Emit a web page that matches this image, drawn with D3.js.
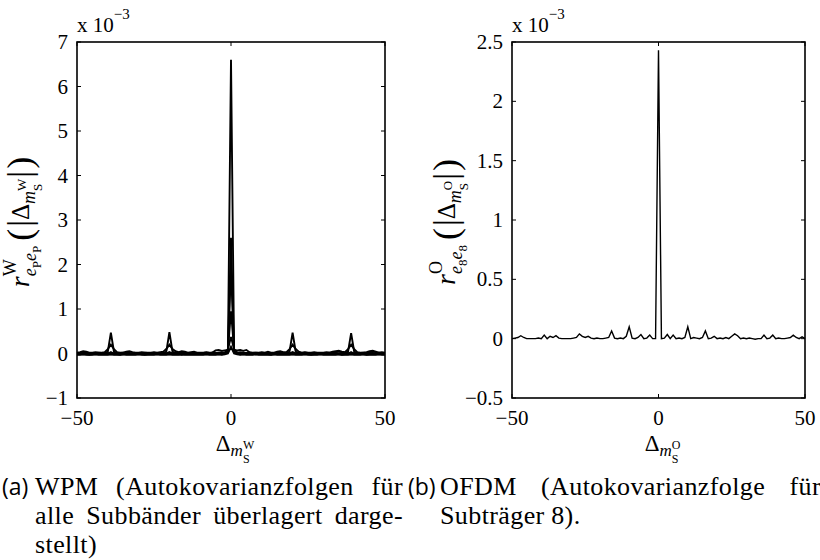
<!DOCTYPE html>
<html>
<head>
<meta charset="utf-8">
<script src="https://cdn.jsdelivr.net/npm/d3@7"></script>
<style>
  body { margin: 0; background: #fff; }
  svg text { font-family: "Liberation Serif", "Tinos", "DejaVu Serif", serif; fill: #000; }
  svg text.caplab { font-family: "Open Sans", "DejaVu Sans", sans-serif; }
  svg text.cap { letter-spacing: 0.4px; }
</style>
</head>
<body>
<svg id="fig" width="820" height="560"></svg>
<script>
// Lag axis (integer lags -50 ... 50)
const lags = d3.range(-50, 51);

// WPM: autocovariance sequences of the individual subbands (units of 1e-3)
const wpmSub1 = [
  0, 0.01, 0, -0.01, 0, 0.01, 0, 0, -0.01, 0,
  0, 0.02, 0, 0, 0.01, 0, 0, -0.01, 0, 0,
  0.01, 0, 0, 0, 0.01, 0, 0, 0, -0.01, 0,
  0.03, 0, 0, 0.01, 0, 0, 0, 0.01, 0, 0,
  0, 0.01, 0, 0, 0.02, 0, 0.01, 0, 0.02, 0.06,
  6.6,
  0.06, 0.02, 0, 0.01, 0, 0.02, 0, 0, 0.01, 0,
  0, 0, 0.01, 0, 0, 0, 0.01, 0, 0, 0.03,
  0, -0.01, 0, 0, 0, 0.01, 0, 0, 0, 0.01,
  0, 0, -0.01, 0, 0, 0.01, 0, 0, 0.02, 0,
  0, -0.01, 0, 0, 0.01, 0, -0.01, 0, 0.01, 0
];
const wpmSub2 = [
  -0.02, -0.02, -0.01, -0.02, -0.03, -0.02, -0.02, -0.01, -0.02, -0.02,
  -0.02, -0.01, -0.02, -0.02, -0.03, -0.02, -0.02, -0.02, -0.01, -0.02,
  -0.02, -0.02, -0.03, -0.02, -0.02, -0.01, -0.02, -0.02, -0.02, -0.02,
  -0.01, -0.02, -0.02, -0.02, -0.03, -0.02, -0.02, -0.01, -0.02, -0.02,
  -0.02, -0.02, -0.01, -0.02, -0.02, -0.02, -0.01, -0.02, -0.01, 0.03,
  2.6,
  0.03, -0.01, -0.02, -0.01, -0.02, -0.02, -0.02, -0.01, -0.02, -0.02,
  -0.02, -0.02, -0.03, -0.02, -0.02, -0.01, -0.02, -0.02, -0.02, -0.01,
  -0.02, -0.02, -0.01, -0.02, -0.02, -0.03, -0.02, -0.02, -0.02, -0.02,
  -0.02, -0.01, -0.02, -0.02, -0.02, -0.03, -0.02, -0.02, -0.01, -0.02,
  -0.01, -0.02, -0.02, -0.03, -0.02, -0.02, -0.01, -0.02, -0.02, -0.02
];
const wpmSub3 = [
  0.01, 0.01, 0.02, 0.01, 0, 0.01, 0.01, 0.02, 0.01, 0.01,
  0.04, 0.47, 0.04, 0.01, 0.01, 0.02, 0.01, 0.01, 0, 0.01,
  0.01, 0.01, 0.02, 0.01, 0.01, 0.01, 0, 0.01, 0.01, 0.04,
  0.48, 0.04, 0.01, 0.01, 0.02, 0.01, 0.01, 0.01, 0, 0.01,
  0.01, 0.01, 0.02, 0.01, 0.01, 0.01, 0.02, 0.01, 0.02, 0.04,
  1.9,
  0.04, 0.02, 0.01, 0.02, 0.01, 0.01, 0.01, 0.02, 0.01, 0.01,
  0.01, 0, 0.01, 0.01, 0.01, 0.02, 0.01, 0.01, 0.04, 0.47,
  0.04, 0.01, 0.01, 0.02, 0.01, 0.01, 0, 0.01, 0.01, 0.01,
  0.01, 0.02, 0.01, 0.01, 0, 0.01, 0.01, 0.04, 0.46, 0.04,
  0.01, 0.01, 0.02, 0.01, 0.01, 0, 0.01, 0.02, 0.01, 0.01
];
const wpmSub4 = [
  0.02, 0.03, 0.05, 0.04, 0.02, 0.02, 0.03, 0.02, 0.02, 0.03,
  0.1, 0.2, 0.1, 0.03, 0.02, 0.02, 0.04, 0.05, 0.03, 0.02,
  0.02, 0.03, 0.02, 0.02, 0.02, 0.03, 0.02, 0.03, 0.04, 0.1,
  0.2, 0.1, 0.05, 0.03, 0.05, 0.04, 0.02, 0.03, 0.04, 0.02,
  0.02, 0.02, 0.03, 0.02, 0.02, 0.07, 0.08, 0.06, 0.07, 0.08,
  0.95,
  0.08, 0.07, 0.08, 0.06, 0.08, 0.03, 0.02, 0.02, 0.02, 0.03,
  0.02, 0.04, 0.02, 0.02, 0.04, 0.05, 0.03, 0.03, 0.1, 0.2,
  0.1, 0.04, 0.02, 0.03, 0.02, 0.02, 0.03, 0.02, 0.02, 0.02,
  0.03, 0.02, 0.04, 0.05, 0.06, 0.04, 0.03, 0.1, 0.2, 0.1,
  0.03, 0.02, 0.02, 0.03, 0.05, 0.06, 0.04, 0.02, 0.03, 0.02
];
const wpmSub5 = [
  0, 0, 0.01, 0, -0.01, 0, 0, 0.01, 0, 0,
  0, 0.03, 0, 0, 0, 0.01, 0, 0, 0, 0,
  0, 0.01, 0, 0, 0, 0, 0.01, 0, 0, 0,
  0.03, 0, 0, 0, 0.01, 0, 0, 0, 0, 0.01,
  0, 0, 0, 0.01, 0, 0, 0.02, 0.03, 0.02, 0.1,
  0.37,
  0.1, 0.02, 0.03, 0.02, 0, 0, 0.01, 0, 0, 0,
  0.01, 0, 0, 0, 0, 0.01, 0, 0, 0, 0.03,
  0, 0, 0, 0.01, 0, 0, 0, 0.01, 0, 0,
  0, 0, 0, 0.01, 0, 0, 0, 0, 0.03, 0,
  0, 0, 0.01, 0, 0, 0.01, 0, 0, 0, 0
];
const wpmSub6 = [
  -0.03, -0.03, -0.02, -0.03, -0.03, -0.03, -0.02, -0.03, -0.03, -0.03,
  -0.03, -0.02, -0.03, -0.03, -0.03, -0.02, -0.03, -0.03, -0.03, -0.03,
  -0.02, -0.03, -0.03, -0.03, -0.03, -0.03, -0.02, -0.03, -0.03, -0.03,
  -0.02, -0.03, -0.03, -0.03, -0.02, -0.03, -0.03, -0.03, -0.03, -0.03,
  -0.03, -0.03, -0.02, -0.03, -0.03, -0.03, -0.02, -0.03, -0.02, 0,
  0.15,
  0, -0.02, -0.03, -0.02, -0.03, -0.03, -0.03, -0.02, -0.03, -0.03,
  -0.03, -0.03, -0.03, -0.02, -0.03, -0.03, -0.03, -0.03, -0.03, -0.02,
  -0.03, -0.03, -0.03, -0.02, -0.03, -0.03, -0.03, -0.03, -0.02, -0.03,
  -0.03, -0.03, -0.03, -0.03, -0.02, -0.03, -0.03, -0.03, -0.02, -0.03,
  -0.03, -0.03, -0.02, -0.03, -0.03, -0.03, -0.03, -0.02, -0.03, -0.03
];
const wpmSeries = [wpmSub6, wpmSub5, wpmSub4, wpmSub3, wpmSub2, wpmSub1];

// OFDM: autocovariance sequence of subcarrier 8 (units of 1e-3)
const ofdmSub8 = [
  0.0, 0.005, 0.01, 0.025, 0.01, 0.0, 0.0, 0.0, 0.0, 0.005,
  0.0, 0.03, 0.0, 0.02, 0.01, 0.025, 0.005, 0.0, 0.0, 0.0,
  0.0, 0.005, 0.01, 0.04, 0.02, 0.01, 0.02, 0.005, 0.0, 0.005,
  0.0, 0.0, 0.005, 0.01, 0.065, 0.005, 0.0, 0.005, 0.0, 0.02,
  0.10, 0.005, 0.0, 0.01, 0.035, 0.0, 0.005, 0.03, 0.0, 0.0,
  2.43,
  0.0, 0.005, 0.035, 0.0, 0.03, 0.0, 0.005, 0.0, 0.01, 0.10,
  0.0, 0.01, 0.005, 0.0, 0.01, 0.065, 0.0, 0.005, 0.02, 0.0,
  0.005, 0.0, 0.01, 0.0, 0.02, 0.04, 0.025, 0.0, 0.005, 0.0,
  0.005, 0.0, -0.005, 0.0, 0.0, 0.03, 0.0, 0.005, 0.03, 0.0,
  0.005, 0.0, 0.0, 0.005, 0.01, 0.03, 0.01, 0.0, 0.015, 0.0
];

// Tick values
const xTicks = [-50, 0, 50];
const wpmYTicks = [-1, 0, 1, 2, 3, 4, 5, 6, 7];
const ofdmYTicks = [-0.5, 0, 0.5, 1, 1.5, 2, 2.5];

const svg = d3.select("#fig");
const fmt = v => (v < 0 ? "\u2212" : "") + Math.abs(v);

// Lay out a run of text pieces left to right; {sup, sub} items are stacked.
function place(g, items, x0) {
  let cx = x0;
  for (const it of items) {
    if (it.sup || it.sub) {
      const a = it.sup ? place(g, it.sup, cx) : cx;
      const b = it.sub ? place(g, it.sub, cx) : cx;
      cx = Math.max(a, b);
    } else {
      const t = g.append("text")
        .attr("x", cx + (it.dx || 0))
        .attr("y", it.dy || 0)
        .attr("font-size", it.size)
        .style("font-style", it.it ? "italic" : "normal")
        .text(it.t);
      cx += t.node().getComputedTextLength() + (it.dx || 0) + (it.after || 0);
    }
  }
  return cx;
}
function mathLabel(parent, items, tx, ty, rot) {
  const outer = parent.append("g").attr("transform", `translate(${tx},${ty}) rotate(${rot || 0})`);
  const inner = outer.append("g");
  const w = place(inner, items, 0);
  inner.attr("transform", `translate(${-w / 2},0)`);
}

function drawPanel(opts) {
  const x = d3.scaleLinear().domain([-50, 50]).range(opts.xr);
  const y = d3.scaleLinear().domain(opts.yd).range([398, 42]);
  const g = svg.append("g");
  const [x0, x1] = opts.xr, y0 = 398, y1 = 42, tl = 4;

  // data lines
  const line = d3.line().x((d, i) => x(lags[i])).y(d => y(d));
  g.selectAll("path.series").data(opts.series).join("path")
    .attr("class", "series")
    .attr("d", line)
    .attr("fill", "none").attr("stroke", "#000")
    .attr("stroke-width", opts.lw).attr("stroke-linejoin", "miter");

  // box and inward ticks
  g.append("rect").attr("x", x0).attr("y", y1).attr("width", x1 - x0).attr("height", y0 - y1)
    .attr("fill", "none").attr("stroke", "#000").attr("stroke-width", 1.6);
  opts.yt.forEach(v => {
    g.append("line").attr("x1", x0).attr("x2", x0 + tl).attr("y1", y(v)).attr("y2", y(v)).attr("stroke", "#000");
    g.append("line").attr("x1", x1).attr("x2", x1 - tl).attr("y1", y(v)).attr("y2", y(v)).attr("stroke", "#000");
    g.append("text").attr("x", x0 - 9).attr("y", y(v) + 7).attr("text-anchor", "end")
      .attr("font-size", 21).text(fmt(v));
  });
  xTicks.forEach(v => {
    g.append("line").attr("x1", x(v)).attr("x2", x(v)).attr("y1", y0).attr("y2", y0 - tl).attr("stroke", "#000");
    g.append("line").attr("x1", x(v)).attr("x2", x(v)).attr("y1", y1).attr("y2", y1 + tl).attr("stroke", "#000");
    g.append("text").attr("x", x(v)).attr("y", 425).attr("text-anchor", "middle")
      .attr("font-size", 21).text(fmt(v));
  });

  // exponent label
  const ex = g.append("text").attr("x", x0).attr("y", 32).attr("font-size", 21);
  ex.append("tspan").text("x 10");
  ex.append("tspan").attr("font-size", 15).attr("dy", -13).text("\u22123");

  // axis labels
  mathLabel(g, [
    { t: "\u0394", size: 23 },
    { t: "m", size: 17, it: true, dy: 5 },
    { sup: [{ t: opts.tag, size: 12, dy: -2 }], sub: [{ t: "S", size: 12, dy: 12 }] }
  ], x(0) + 4, 451, 0);

  mathLabel(g, [
    { t: "r", size: 28, it: true },
    { sup: [{ t: opts.tag, size: 18, dy: -13 }],
      sub: [{ t: "e", size: 18, it: true, dy: 7 }, { t: opts.idx, size: 13, dy: 12 },
            { t: "e", size: 18, it: true, dy: 7 }, { t: opts.idx, size: 13, dy: 12 }] },
    { t: "(", size: 36, dy: 3, dx: 5 },
    { t: "|", size: 34, dy: 2, dx: 2 },
    { t: "\u0394", size: 25 },
    { t: "m", size: 18, it: true, dy: 6 },
    { sup: [{ t: opts.tag, size: 13, dy: -3 }], sub: [{ t: "S", size: 13, dy: 13 }] },
    { t: "|", size: 34, dy: 2, dx: 1 },
    { t: ")", size: 36, dy: 3, dx: 2 }
  ], opts.ylx, 222, -90);
}

drawPanel({ xr: [77, 385], yd: [-1, 7], yt: wpmYTicks, series: wpmSeries, lw: 1.9,
            tag: "W", idx: "P", ylx: 29 });
drawPanel({ xr: [512, 805], yd: [-0.5, 2.5], yt: ofdmYTicks, series: [ofdmSub8], lw: 1.4,
            tag: "O", idx: "8", ylx: 455 });

// Sub-captions, justified word by word
function justifyLine(words, xa, xb, yb, size, justify) {
  const g = svg.append("g");
  const nodes = words.map(w => g.append("text").attr("class", "cap").attr("y", yb)
    .attr("font-size", size).text(w));
  const widths = nodes.map(n => n.node().getComputedTextLength());
  const total = d3.sum(widths);
  const gap = justify && words.length > 1 ? (xb - xa - total) / (words.length - 1) : size * 0.25;
  let cx = xa;
  nodes.forEach((n, i) => { n.attr("x", cx); cx += widths[i] + gap; });
}
const capSize = 26;
svg.append("text").attr("class", "caplab").attr("x", 2).attr("y", 495).attr("font-size", 23).text("(a)");
justifyLine(["WPM", "(Autokovarianzfolgen", "f\u00fcr"], 35, 403, 495, capSize, true);
justifyLine(["alle", "Subb\u00e4nder", "\u00fcberlagert", "darge-"], 35, 403, 524, capSize, true);
justifyLine(["stellt)"], 35, 403, 553, capSize, false);
svg.append("text").attr("class", "caplab").attr("x", 408).attr("y", 495).attr("font-size", 23).text("(b)");
justifyLine(["OFDM", "(Autokovarianzfolge", "f\u00fcr"], 440, 821, 495, capSize, true);
justifyLine(["Subtr\u00e4ger", "8)."], 440, 821, 524, capSize, false);
</script>
</body>
</html>
